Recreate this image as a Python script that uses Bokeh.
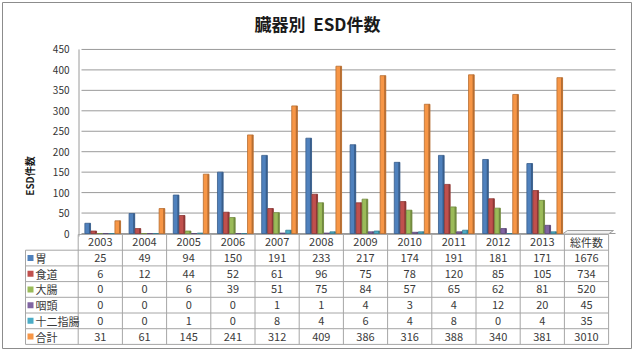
from bokeh.plotting import figure
from bokeh.models import Range1d, LinearAxis, FixedTicker
from bokeh.core.properties import value
from bokeh.embed import file_html
from bokeh.resources import INLINE

# ---------------- data ----------------
categories = ["2003", "2004", "2005", "2006", "2007", "2008", "2009",
              "2010", "2011", "2012", "2013", "総件数"]
series_names = ["胃", "食道", "大腸", "咽頭", "十二指腸", "合計"]
stomach = [25, 49, 94, 150, 191, 233, 217, 174, 191, 181, 171, 1676]
esophagus = [6, 12, 44, 52, 61, 96, 75, 78, 120, 85, 105, 734]
colon = [0, 0, 6, 39, 51, 75, 84, 57, 65, 62, 81, 520]
pharynx = [0, 0, 0, 0, 1, 1, 4, 3, 4, 12, 20, 45]
duodenum = [0, 0, 1, 0, 8, 4, 6, 4, 8, 0, 4, 35]
total = [31, 61, 145, 241, 312, 409, 386, 316, 388, 340, 381, 3010]
series_values = [stomach, esophagus, colon, pharynx, duodenum, total]
y_ticks = [0, 50, 100, 150, 200, 250, 300, 350, 400, 450]
title_text = "臓器別\u00a0\u00a0ESD件数"
y_label = "ESD件数"
n_plotted = 11  # the 総件数 column is shown in the table only

colors = ["#4F81BD", "#C0504D", "#9BBB59", "#8064A2", "#4BACC6", "#F79646"]
dark = ["#385D8A", "#8C3836", "#71893F", "#5C4776", "#357D91", "#B66D31"]

FONT = "Noto Sans CJK JP"

# ---------------- layout (pixels) ----------------
W, H = 635, 351
X0, CW = 77.7, 44.2      # left edge of first column, column width
Y0, PPU = 233.0, 0.409   # pixel row of value 0, pixels per unit


def fx(px):
    return (px - X0) / CW


def fy(py):
    return (Y0 - py) / PPU


p = figure(width=W, height=H, x_range=Range1d(fx(0), fx(W)),
           y_range=Range1d(fy(H), fy(0)),
           x_axis_location=None, y_axis_location=None,
           toolbar_location=None, output_backend="svg", min_border=0)
p.outline_line_color = None
p.grid.grid_line_color = None
p.background_fill_color = "white"
p.border_fill_color = "white"

# outer border
p.quad(left=fx(2), right=fx(631), top=fy(2), bottom=fy(348),
       fill_color=None, line_color="#8C8C8C", line_width=1)

# title
p.text(x=[fx(317)], y=[fy(23)], text=[title_text], text_align="center",
       text_baseline="middle", text_font=value(FONT), text_font_size="17px",
       text_font_style="bold", text_color="#1a1a1a")

# y axis (fixed at wall edge)
yaxis = LinearAxis(fixed_location=fx(78), ticker=FixedTicker(ticks=y_ticks))
yaxis.axis_line_color = None
yaxis.major_tick_line_color = None
yaxis.minor_tick_line_color = None
yaxis.major_tick_out = 0
yaxis.major_tick_in = 0
yaxis.major_label_standoff = 9
yaxis.major_label_text_font = FONT
yaxis.major_label_text_font_size = "10px"
yaxis.major_label_text_color = "#333333"
yaxis.axis_label = y_label
yaxis.axis_label_text_font = FONT
yaxis.axis_label_text_font_size = "10px"
yaxis.axis_label_text_font_style = "bold"
yaxis.axis_label_text_color = "#1a1a1a"
yaxis.axis_label_standoff = 13
p.add_layout(yaxis, "left")

# back wall gridlines
p.segment(x0=[fx(81)] * len(y_ticks), x1=[fx(615)] * len(y_ticks),
          y0=y_ticks, y1=y_ticks, line_color="#9A9A9A", line_width=1)
p.segment(x0=[fx(78.5)], x1=[fx(78.5)], y0=[fy(236)], y1=[y_ticks[-1]],
          line_color="#9A9A9A", line_width=1)
# floor edge under last column
p.patch(x=[fx(562), fx(608), fx(613), fx(567)],
        y=[fy(233.5), fy(233.5), fy(230), fy(230)],
        fill_color="#F2F2F2", line_color="#A0A0A0", line_width=1)

# bars
BW = 0.128
for k, vals in enumerate(series_values):
    xs = [i + 0.215 + k * 0.136 for i in range(n_plotted)]
    p.vbar(x=xs, top=vals[:n_plotted], bottom=0, width=BW,
           fill_color=colors[k], line_color=dark[k], line_width=0.8)
    p.vbar(x=[x + BW / 2 - 0.018 for x in xs], top=vals[:n_plotted], bottom=0,
           width=0.036, fill_color=dark[k], line_color=None)

# ---------------- table ----------------
rows_py = [234, 249.7, 265.4, 281.1, 296.8, 312.5, 328.2, 343.9]
GRID = "#A6A6A6"
TXT = "#3A3A3A"
ncol = len(categories)
# vertical lines
p.segment(x0=list(range(ncol + 1)), x1=list(range(ncol + 1)),
          y0=[fy(rows_py[0])] * (ncol + 1), y1=[fy(rows_py[-1])] * (ncol + 1),
          line_color=GRID, line_width=1)
p.segment(x0=[fx(25)], x1=[fx(25)], y0=[fy(rows_py[1])], y1=[fy(rows_py[-1])],
          line_color=GRID, line_width=1)
# horizontal lines
p.segment(x0=[0] + [fx(25)] * (len(rows_py) - 1), x1=[ncol] * len(rows_py),
          y0=[fy(r) for r in rows_py], y1=[fy(r) for r in rows_py],
          line_color=GRID, line_width=1)

mid = [fy((rows_py[j] + rows_py[j + 1]) / 2) for j in range(len(rows_py) - 1)]
# header
p.text(x=[i + 0.5 for i in range(ncol)], y=[mid[0]] * ncol, text=categories,
       text_align="center", text_baseline="middle", text_font=value(FONT),
       text_font_size="11px", text_color=TXT)
# values
for k, vals in enumerate(series_values):
    p.text(x=[i + 0.5 for i in range(ncol)], y=[mid[k + 1]] * ncol,
           text=[str(v) for v in vals], text_align="center",
           text_baseline="middle", text_font=value(FONT),
           text_font_size="11px", text_color=TXT)
# row labels with colour keys
p.scatter(x=[fx(30)] * len(series_names), y=mid[1:], marker="square", size=6,
          fill_color=colors, line_color=None)
p.text(x=[fx(35)] * len(series_names), y=mid[1:], text=series_names,
       text_align="left", text_baseline="middle", text_font=value(FONT),
       text_font_size="11px", text_color=TXT)

open("out.html", "w").write(file_html(p, INLINE))
